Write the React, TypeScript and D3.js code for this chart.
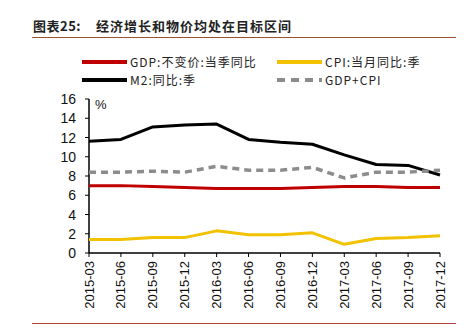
import React from "react";
import * as d3 from "d3";

const categories = ["2015-03","2015-06","2015-09","2015-12","2016-03","2016-06","2016-09","2016-12","2017-03","2017-06","2017-09","2017-12"];
const gdp = [7.0, 7.0, 6.9, 6.8, 6.7, 6.7, 6.7, 6.8, 6.9, 6.9, 6.8, 6.8];
const cpi = [1.4, 1.4, 1.6, 1.6, 2.3, 1.9, 1.9, 2.1, 0.9, 1.5, 1.6, 1.8];
const m2 = [11.6, 11.8, 13.1, 13.3, 13.4, 11.8, 11.5, 11.3, 10.2, 9.2, 9.1, 8.1];
const gdpCpi = [8.4, 8.4, 8.5, 8.4, 9.0, 8.6, 8.6, 8.9, 7.8, 8.4, 8.4, 8.6];
const yTicks = [0, 2, 4, 6, 8, 10, 12, 14, 16];

const series = [
  { name: "GDP:不变价:当季同比", values: gdp, color: "#c00000", dash: "" },
  { name: "CPI:当月同比:季", values: cpi, color: "#f2c200", dash: "" },
  { name: "M2:同比:季", values: m2, color: "#000000", dash: "" },
  { name: "GDP+CPI", values: gdpCpi, color: "#8c8c8c", dash: "7,5" },
];

export default function App() {
  const W = 472, H = 333;
  const x = d3.scalePoint<string>().domain(categories).range([89, 440]);
  const y = d3.scaleLinear().domain([0, 16]).range([253, 99]);
  const line = d3.line<number>().x((_, i) => x(categories[i])!).y(d => y(d));
  const font = "Arial, 'Liberation Sans', sans-serif";
  const legendPos = [
    { lx: 82, ly: 62 },
    { lx: 277, ly: 62 },
    { lx: 82, ly: 80 },
    { lx: 277, ly: 80 },
  ];
  return (
    <svg width={W} height={H} style={{ position: "absolute", left: 0, top: 0, background: "#fff" }}>
      <text x={33} y={31} fontFamily="'Noto Sans CJK SC', sans-serif" fontWeight="bold" fontSize={13} fill="#222" letterSpacing={0.5}>
        图表25:
      </text>
      <text x={96} y={31} fontFamily="'Noto Sans CJK SC', sans-serif" fontWeight="bold" fontSize={13} fill="#222" letterSpacing={1}>
        经济增长和物价均处在目标区间
      </text>
      <line x1={32} x2={456} y1={37.5} y2={37.5} stroke="#a0522d" strokeWidth={1.2} />
      <line x1={32} x2={456} y1={323.5} y2={323.5} stroke="#b04040" strokeWidth={1} />

      {series.map((s, i) => (
        <g key={s.name}>
          <line x1={legendPos[i].lx} x2={legendPos[i].lx + 45} y1={legendPos[i].ly} y2={legendPos[i].ly}
            stroke={s.color} strokeWidth={4} strokeDasharray={s.dash ? "8,6" : undefined} />
          <text x={legendPos[i].lx + 48} y={legendPos[i].ly + 4.5} fontFamily="'Noto Sans CJK SC', sans-serif"
            fontSize={12} fill="#222" letterSpacing={1}>{s.name}</text>
        </g>
      ))}

      {/* y axis */}
      <line x1={89} x2={89} y1={y(16)} y2={y(0)} stroke="#000" strokeWidth={1.5} />
      {yTicks.map(t => (
        <g key={t}>
          <line x1={85} x2={89} y1={y(t)} y2={y(t)} stroke="#000" strokeWidth={1} />
          <text x={76} y={y(t) + 5} textAnchor="end" fontFamily={font} fontSize={14} fill="#111">{t}</text>
        </g>
      ))}
      <text x={95} y={109} fontFamily={font} fontSize={13} fill="#111">%</text>

      {/* x axis */}
      <line x1={89} x2={440} y1={y(0)} y2={y(0)} stroke="#000" strokeWidth={1.5} />
      {categories.map(c => (
        <g key={c}>
          <line x1={x(c)!} x2={x(c)!} y1={y(0)} y2={y(0) + 4} stroke="#000" strokeWidth={1} />
          <text transform={`translate(${x(c)! + 4.5},${y(0) + 8}) rotate(-90)`} textAnchor="end"
            fontFamily={font} fontSize={13} fill="#111">{c}</text>
        </g>
      ))}

      {series.map(s => (
        <path key={s.name} d={line(s.values)!} fill="none" stroke={s.color} strokeWidth={s.dash ? 3.5 : 3}
          strokeDasharray={s.dash || undefined} strokeLinejoin="round" />
      ))}
    </svg>
  );
}
